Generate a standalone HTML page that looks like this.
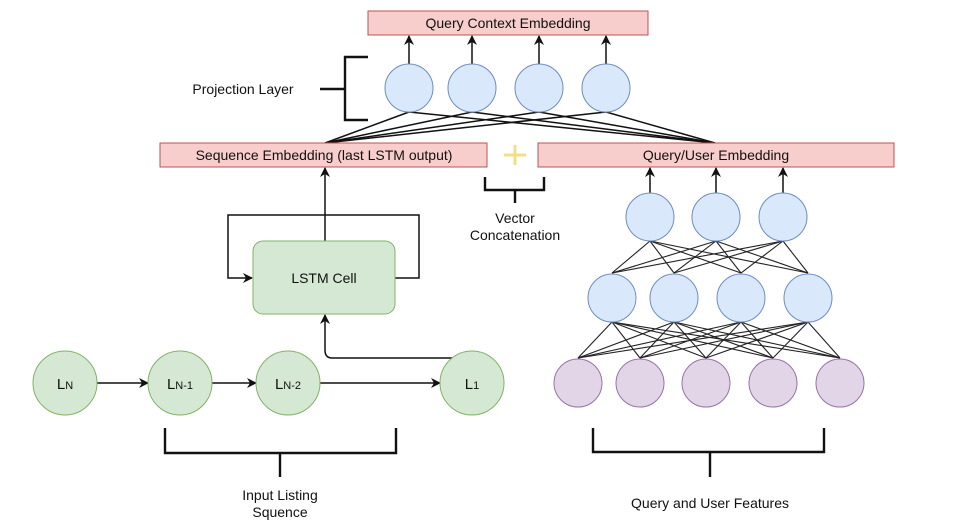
<!DOCTYPE html>
<html><head><meta charset="utf-8"><style>
html,body{margin:0;padding:0;background:#fff;}
svg{display:block;font-family:"Liberation Sans",Arial,sans-serif;}
</style></head><body>
<svg width="966" height="524" viewBox="0 0 966 524" xmlns="http://www.w3.org/2000/svg">
<defs>
<marker id="a" viewBox="0 0 10 10" refX="9" refY="5" markerWidth="10" markerHeight="10" orient="auto-start-reverse" markerUnits="userSpaceOnUse"><path d="M0,0 L10,5 L0,10 L3,5 z" fill="#111"/></marker>
</defs>
<g stroke="#111" stroke-width="1.5" fill="none">
<line x1="409" y1="64" x2="409" y2="36" marker-end="url(#a)"/>
<line x1="472" y1="64" x2="472" y2="36" marker-end="url(#a)"/>
<line x1="539" y1="64" x2="539" y2="36" marker-end="url(#a)"/>
<line x1="606" y1="64" x2="606" y2="36" marker-end="url(#a)"/>
<line x1="325" y1="143" x2="409" y2="112"/><line x1="325" y1="143" x2="472" y2="112"/>
<line x1="325" y1="143" x2="539" y2="112"/><line x1="325" y1="143" x2="606" y2="112"/>
<line x1="715" y1="143" x2="409" y2="112"/><line x1="715" y1="143" x2="472" y2="112"/>
<line x1="715" y1="143" x2="539" y2="112"/><line x1="715" y1="143" x2="606" y2="112"/>
<line x1="325" y1="241" x2="325" y2="168" marker-end="url(#a)"/>
<polyline points="325,215 228,215 228,278 252,278" marker-end="url(#a)"/>
<polyline points="395,278 419,278 419,215 325,215"/>
<path d="M455,358 L332,358 Q325,358 325,350 L325,315" marker-end="url(#a)"/>
<line x1="97" y1="383" x2="148" y2="383" marker-end="url(#a)"/>
<line x1="212" y1="383" x2="256" y2="383" marker-end="url(#a)"/>
<line x1="320" y1="383" x2="440" y2="383" marker-end="url(#a)"/>
<line x1="650" y1="193" x2="650" y2="168" marker-end="url(#a)"/>
<line x1="716" y1="193" x2="716" y2="168" marker-end="url(#a)"/>
<line x1="783" y1="193" x2="783" y2="168" marker-end="url(#a)"/>
</g>
<g stroke="#222" stroke-width="1.1">
<line x1="650" y1="241" x2="612" y2="273"/><line x1="650" y1="241" x2="674" y2="273"/><line x1="650" y1="241" x2="741" y2="273"/><line x1="650" y1="241" x2="808" y2="273"/>
<line x1="716" y1="241" x2="612" y2="273"/><line x1="716" y1="241" x2="674" y2="273"/><line x1="716" y1="241" x2="741" y2="273"/><line x1="716" y1="241" x2="808" y2="273"/>
<line x1="783" y1="241" x2="612" y2="273"/><line x1="783" y1="241" x2="674" y2="273"/><line x1="783" y1="241" x2="741" y2="273"/><line x1="783" y1="241" x2="808" y2="273"/>
<line x1="612" y1="322" x2="578" y2="358"/><line x1="612" y1="322" x2="640" y2="358"/><line x1="612" y1="322" x2="706" y2="358"/><line x1="612" y1="322" x2="773" y2="358"/><line x1="612" y1="322" x2="840" y2="358"/>
<line x1="674" y1="322" x2="578" y2="358"/><line x1="674" y1="322" x2="640" y2="358"/><line x1="674" y1="322" x2="706" y2="358"/><line x1="674" y1="322" x2="773" y2="358"/><line x1="674" y1="322" x2="840" y2="358"/>
<line x1="741" y1="322" x2="578" y2="358"/><line x1="741" y1="322" x2="640" y2="358"/><line x1="741" y1="322" x2="706" y2="358"/><line x1="741" y1="322" x2="773" y2="358"/><line x1="741" y1="322" x2="840" y2="358"/>
<line x1="808" y1="322" x2="578" y2="358"/><line x1="808" y1="322" x2="640" y2="358"/><line x1="808" y1="322" x2="706" y2="358"/><line x1="808" y1="322" x2="773" y2="358"/><line x1="808" y1="322" x2="840" y2="358"/>
</g>
<g fill="#f8cecc" stroke="#b85450" stroke-width="1">
<rect x="368" y="11" width="280" height="24"/>
<rect x="160" y="143" width="327" height="24"/>
<rect x="538" y="143" width="356" height="24"/>
</g>
<rect x="253" y="241" width="142" height="73" rx="10" fill="#d5e8d4" stroke="#82b366"/>
<g fill="#dae8fc" stroke="#6c8ebf" stroke-width="1">
<circle cx="409" cy="88" r="24"/><circle cx="472" cy="88" r="24"/><circle cx="539" cy="88" r="24"/><circle cx="606" cy="88" r="24"/>
<circle cx="650" cy="217" r="24"/><circle cx="716" cy="217" r="24"/><circle cx="783" cy="217" r="24"/>
<circle cx="612" cy="298" r="24"/><circle cx="674" cy="298" r="24"/><circle cx="741" cy="298" r="24"/><circle cx="808" cy="298" r="24"/>
</g>
<g fill="#e1d5e7" stroke="#9673a6" stroke-width="1">
<circle cx="578" cy="383" r="24"/><circle cx="640" cy="383" r="24"/><circle cx="706" cy="383" r="24"/><circle cx="773" cy="383" r="24"/><circle cx="840" cy="383" r="24"/>
</g>
<g fill="#d5e8d4" stroke="#82b366" stroke-width="1">
<circle cx="65" cy="383" r="32"/><circle cx="180" cy="383" r="32"/><circle cx="288" cy="383" r="32"/><circle cx="472" cy="383" r="32"/>
</g>
<g stroke="#111" stroke-width="2.4" fill="none">
<polyline points="368,57 345,57 345,120 368,120"/><line x1="320" y1="89" x2="345" y2="89"/>
<polyline points="485,177 485,190 544,190 544,177"/><line x1="515" y1="190" x2="515" y2="203"/>
<polyline points="165,428 165,453 396,453 396,428"/><line x1="280" y1="453" x2="280" y2="477"/>
<polyline points="593,428 593,452 824,452 824,428"/><line x1="710" y1="452" x2="710" y2="477"/>
</g>
<g stroke="#f0e08a" stroke-width="3"><line x1="515" y1="145" x2="515" y2="165"/><line x1="504" y1="155" x2="526" y2="155"/></g>
<g font-size="14" fill="#111" text-anchor="middle">
<text x="508" y="28">Query Context Embedding</text>
<text x="324" y="160">Sequence Embedding (last LSTM output)</text>
<text x="716" y="160">Query/User Embedding</text>
<text x="243" y="94">Projection Layer</text>
<text x="324" y="283">LSTM Cell</text>
<text x="515" y="223">Vector</text>
<text x="515" y="240">Concatenation</text>
<text x="280" y="500">Input Listing</text>
<text x="280" y="517">Squence</text>
<text x="710" y="508">Query and User Features</text>
<text x="65" y="389" font-size="15">L<tspan font-size="11">N</tspan></text>
<text x="180" y="389" font-size="15">L<tspan font-size="11">N-1</tspan></text>
<text x="288" y="389" font-size="15">L<tspan font-size="11">N-2</tspan></text>
<text x="472" y="389" font-size="15">L<tspan font-size="11">1</tspan></text>
</g>
</svg>
</body></html>
